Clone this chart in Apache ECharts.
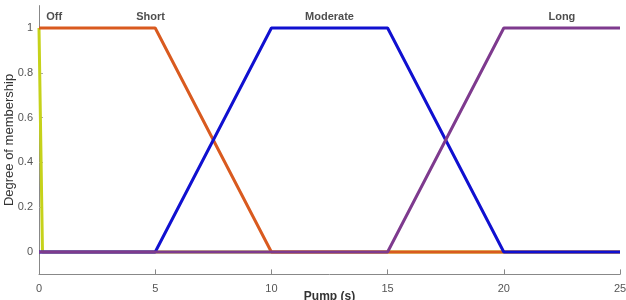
<!DOCTYPE html>
<html><head><meta charset="utf-8">
<script src="https://cdn.jsdelivr.net/npm/echarts@6/dist/echarts.min.js"></script>
<style>html,body{margin:0;padding:0;background:#fff}#c{width:626px;height:300px}</style>
</head><body><div id="c"></div>
<script>
const xTicks = [0, 5, 10, 15, 20, 25];
const yTicks = [0, 0.2, 0.4, 0.6, 0.8, 1];
const offData = [[0, 1], [0.15, 0], [25, 0]];
const shortData = [[0, 1], [5, 1], [10, 0], [25, 0]];
const moderateData = [[0, 0], [5, 0], [10, 1], [15, 1], [20, 0], [25, 0]];
const longData = [[0, 0], [15, 0], [20, 1], [25, 1]];
const labelNames = ['Off', 'Short', 'Moderate', 'Long'];
const labelX = [0.65, 4.8, 12.5, 22.5];
const labelY = 1.05;
const colors = ['#c6d21a', '#d95a1f', '#1010d0', '#7e3a8e'];

const chart = echarts.init(document.getElementById('c'), null, {renderer: 'canvas'});
const mk = (name, data, color, z) => ({
  name, type: 'line', data, symbol: 'none', z,
  lineStyle: {color, width: 3}, itemStyle: {color}, animation: false
});
chart.setOption({
  animation: false,
  grid: {left: 39, right: 6, top: 5.6, bottom: 25.6, containLabel: false, outerBoundsMode: 'none'},
  xAxis: {
    type: 'value', min: 0, max: 25, interval: 5,
    name: 'Pump (s)', nameLocation: 'middle', nameGap: 16, nameMoveOverlap: false,
    nameTextStyle: {fontFamily: 'Liberation Sans', fontWeight: 'bold', fontSize: 12, color: '#333'},
    axisLine: {onZero: false, lineStyle: {color: '#888', width: 1}},
    axisTick: {inside: true, length: 5, lineStyle: {color: '#888'}, customValues: xTicks},
    axisLabel: {fontFamily: 'Liberation Sans', fontSize: 11, color: '#555', margin: 9, customValues: xTicks},
    splitLine: {show: false}
  },
  yAxis: {
    type: 'value', min: -0.1, max: 1.1,
    name: 'Degree of membership', nameLocation: 'middle', nameGap: 23, nameMoveOverlap: false,
    nameTextStyle: {fontFamily: 'Liberation Sans', fontSize: 13, color: '#333'},
    axisLine: {show: true, onZero: false, lineStyle: {color: '#888', width: 1}},
    axisTick: {show: true, inside: true, length: 4, lineStyle: {color: '#aaa'}, customValues: yTicks},
    axisLabel: {show: true, fontFamily: 'Liberation Sans', fontSize: 11, color: '#555', margin: 6,
      customValues: yTicks, formatter: v => String(Math.round(v * 10) / 10)},
    splitLine: {show: false}
  },
  series: [
    mk('Off', offData, colors[0], 2),
    mk('Short', shortData, colors[1], 3),
    mk('Moderate', moderateData, colors[2], 4),
    mk('Long', longData, colors[3], 5),
    {
      type: 'scatter', symbolSize: 0, z: 6,
      data: labelNames.map((n, i) => ({value: [labelX[i], labelY], name: n})),
      label: {show: true, position: 'inside', formatter: p => p.name,
        fontFamily: 'Liberation Sans', fontWeight: 'bold', fontSize: 11, color: '#222'},
      silent: true
    }
  ]
});
</script></body></html>
